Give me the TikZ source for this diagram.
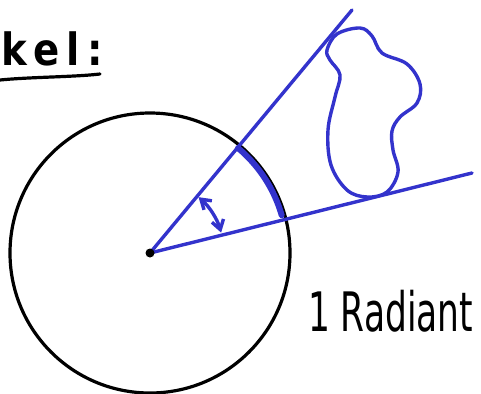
\documentclass[tikz,border=0pt]{standalone}
\usepackage{fontspec}
\newfontfamily\handfont[LetterSpace=18]{DejaVu Sans Bold}
\newfontfamily\labelfont{DejaVu Sans}
\usetikzlibrary{arrows.meta}
\definecolor{penblue}{RGB}{51,51,204}
\tikzset{
  inkblack/.style={draw=black, line width=3.2pt*0.75, line cap=round, line join=round},
  inkblue/.style={draw=penblue, line width=3.4pt*0.75, line cap=round, line join=round},
  hand/.style={inner sep=0pt, outer sep=0pt, text=black},
}
\begin{document}
\begin{tikzpicture}[x=0.75pt, y=-0.75pt]
\useasboundingbox (0,0) rectangle (481,393);
% circle
\coordinate (O) at (150,253);
\draw[inkblack] (O) circle (140);
% rays
\coordinate (A) at (352,10);
\coordinate (B) at (472,173);
\draw[inkblue] (O) -- (A);
\draw[inkblue] (O) -- (B);
% thick arc on circle
\draw[draw=penblue, line width=6pt*0.75, line cap=round] ([shift={(-50:137)}]O) arc[start angle=-50, end angle=-16, radius=137];
% angle arrow
\draw[inkblue, {Straight Barb[length=7pt, width=9pt]}-{Straight Barb[length=7pt, width=9pt]}] ([shift={(-49:74)}]O) arc[start angle=-49, end angle=-16, radius=74];
% centre dot
\fill[black] (O) circle (4.5);
% blob
\draw[inkblue] plot[smooth cycle, tension=0.6] coordinates {
 (327,50) (337,34) (360,28) (372,36) (382,53) (407,64) (420,84) (417,103)
 (400,117) (392,131) (393,150) (398,172) (387,192) (367,197) (347,190)
 (331,165) (328,130) (335,97) (340,75) (330,60)};
% title text
\node[hand, anchor=base west, yscale=1.15] (title) at (2,65) {\handfont\fontsize{29pt}{33pt}\selectfont kel:};
\draw[inkblack] (0,80) .. controls (30,77) and (75,77) .. (100,74);
% label
\node[hand, anchor=base west, xscale=0.76, yscale=1.2] (lbl) at (308,331) {\labelfont\fontsize{34pt}{38pt}\selectfont 1 Radiant};
\end{tikzpicture}
\end{document}
